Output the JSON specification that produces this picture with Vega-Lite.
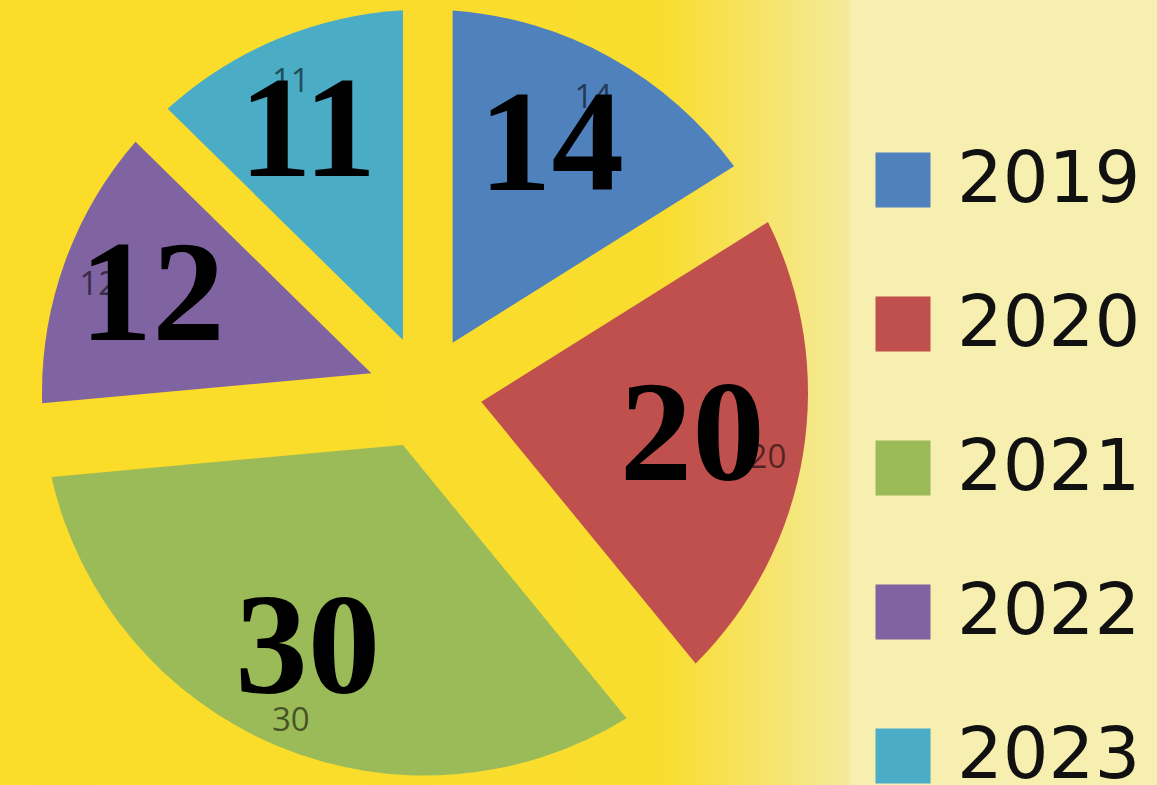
{
  "$schema": "https://vega.github.io/schema/vega-lite/v6.json",
  "width": 850,
  "height": 785,
  "autosize": "none",
  "padding": {"left": 0, "top": 0, "right": 307, "bottom": 0},
  "background": "#f7efb0",
  "config": {"view": {"stroke": null}},
  "data": {
    "values": [
      {"year": "2019", "count": 14},
      {"year": "2020", "count": 20},
      {"year": "2021", "count": 30},
      {"year": "2022", "count": 12},
      {"year": "2023", "count": 11}
    ]
  },
  "layer": [
    {
      "data": {"values": [{}]},
      "mark": {
        "type": "rect",
        "fill": {
          "gradient": "linear",
          "x1": 0, "y1": 0, "x2": 1, "y2": 0,
          "stops": [
            {"offset": 0, "color": "#fbdc28"},
            {"offset": 0.78, "color": "#f9dd2e"},
            {"offset": 1, "color": "#f4ea9c"}
          ]
        }
      },
      "encoding": {}
    },
    {
      "mark": {
        "type": "arc",
        "outerRadius": 383,
        "innerRadius": 57,
        "padAngle": {"expr": "2*asin(57*sin((scale('theta', datum.count_end) - scale('theta', datum.count_start))/2)/sqrt(57*57+383*383))"}
      },
      "encoding": {
        "theta": {"field": "count", "type": "quantitative", "stack": true},
        "order": {"field": "year", "sort": "ascending"},
        "color": {
          "field": "year",
          "type": "nominal",
          "scale": {
            "domain": ["2019", "2020", "2021", "2022", "2023"],
            "range": ["#4f81bd", "#c0504d", "#9bbb59", "#8064a2", "#4bacc6"]
          },
          "legend": {
            "orient": "none",
            "legendX": 867,
            "legendY": 144,
            "title": null,
            "symbolType": "square",
            "symbolSize": 3025,
            "symbolStrokeWidth": 0,
            "symbolOpacity": 1,
            "labelFont": "DejaVu Sans",
            "labelFontSize": 72,
            "labelLimit": 400,
            "labelColor": "#111111",
            "labelOffset": 18,
            "rowPadding": 72,
            "padding": 0
          }
        }
      }
    },
    {
      "mark": {"type": "text", "radius": 347, "dy": 9, "font": "Open Sans", "fontSize": 33, "fill": "#000000", "opacity": 0.55, "align": "center", "baseline": "middle"},
      "encoding": {
        "theta": {"field": "count", "type": "quantitative", "stack": true},
        "order": {"field": "year", "sort": "ascending"},
        "text": {"field": "count", "type": "quantitative"}
      }
    },
    {
      "mark": {"type": "text", "radius": 280, "dy": -2, "dx": -9, "font": "Liberation Serif", "fontWeight": "bold", "fontSize": 145, "fill": "#000000", "align": "center", "baseline": "middle"},
      "encoding": {
        "theta": {"field": "count", "type": "quantitative", "stack": true},
        "order": {"field": "year", "sort": "ascending"},
        "text": {"field": "count", "type": "quantitative"}
      }
    }
  ]
}
